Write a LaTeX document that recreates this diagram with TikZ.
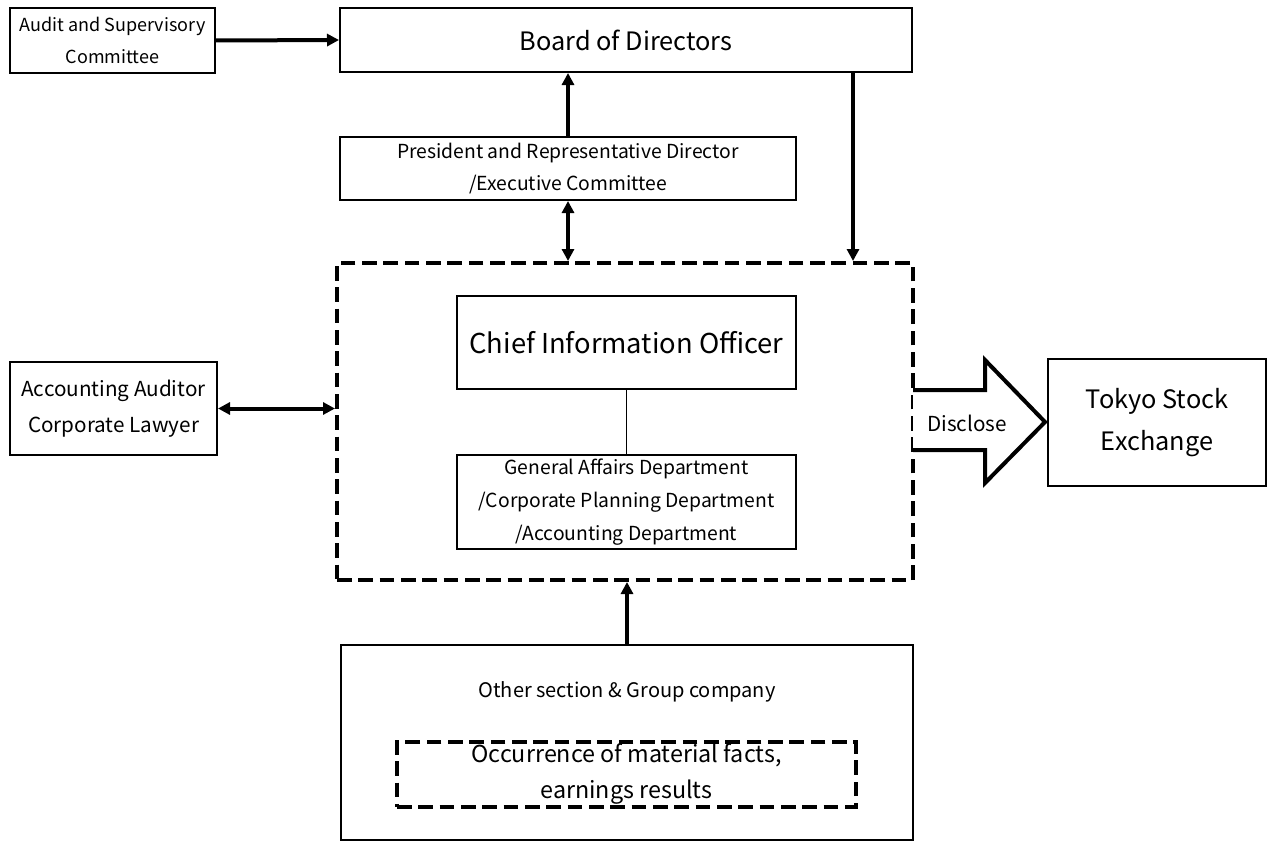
\documentclass[tikz,border=0pt]{standalone}
\usepackage{fontspec}
\setmainfont{Noto Sans CJK JP}
\usetikzlibrary{arrows.meta,calc}
\begin{document}
\begin{tikzpicture}[x=0.75pt,y=-0.75pt,
  box/.style={draw,line width=1.5pt,align=center,inner sep=0pt},
  dbox/.style={draw,line width=3pt,dash pattern=on 11pt off 5pt,inner sep=0pt},
  thick arrow/.style={line width=3pt,-{Triangle[length=9pt,width=9pt]}},
  both arrow/.style={line width=3pt,{Triangle[length=9pt,width=9pt]}-{Triangle[length=9pt,width=9pt]}},
  fs/.style n args={2}{font=\fontsize{#1}{#2}\selectfont}]
\useasboundingbox (0,0) rectangle (1269,842);
\node[box,fs={13.5}{24.5},minimum width=153.75pt,minimum height=48.75pt] (audit) at (112.5,40.5) {Audit and Supervisory\\Committee};
\node[box,fs={19}{20},minimum width=429pt,minimum height=48pt] (board) at (626,40) {Board of Directors};
\node[box,fs={14.5}{24},minimum width=342pt,minimum height=47.25pt] (pres) at (568,168.5) {President and Representative Director\\/Executive Committee};
\node[dbox,minimum width=432pt,minimum height=237.75pt] (dash) at (625,421.5) {};
\node[box,fs={20.5}{20},minimum width=254.25pt,minimum height=69.75pt] (cio) at (626.5,342.5) {Chief Information Officer};
\node[box,fs={14.5}{25},minimum width=254.25pt,minimum height=70.5pt] (dept) at (626.5,502) {General Affairs Department\\/Corporate Planning Department\\/Accounting Department};
\node[box,minimum width=429pt,minimum height=146.25pt] (other) at (627,742.5) {};
\node[fs={15}{14}] (othertext) at (627,692) {Other section \& Group company};
\node[dbox,fs={17.5}{27},align=center,minimum width=344.25pt,minimum height=48.75pt] (occ) at (626.5,774) {Occurrence of material facts,\\earnings results};
\node[box,fs={15.5}{27},minimum width=155.25pt,minimum height=69.75pt] (acc) at (113.5,408.5) {Accounting Auditor\\Corporate Lawyer};
\node[box,fs={19}{31},minimum width=163.5pt,minimum height=95.25pt] (tse) at (1157,422.5) {Tokyo Stock\\Exchange};
% block arrow
\draw[line width=3pt,fill=white,line join=miter] (913,390) -- (985,390) -- (985,360) -- (1045,422) -- (985,483) -- (985,450) -- (913,450);
\node[fs={15.5}{14}] (disc) at (967,423) {Disclose};
% connectors
\draw[thick arrow] (audit.east) -- (board.west);
\draw[thick arrow] (pres.north) -- (pres.north |- board.south);
\draw[both arrow] (pres.south) -- (pres.south |- dash.north);
\coordinate (bd) at ($(board.south east)+(-60,0)$);
\draw[thick arrow] (bd) -- (bd |- dash.north);
\draw[line width=0.75pt] (cio.south) -- (dept.north);
\draw[thick arrow] (other.north) -- (other.north |- dash.south);
\draw[both arrow] (acc.east) -- (acc.east -| dash.west);
\end{tikzpicture}
\end{document}
